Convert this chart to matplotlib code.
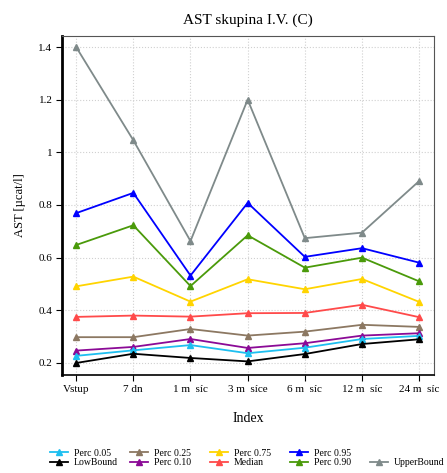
import matplotlib
matplotlib.use("Agg")
import matplotlib.pyplot as plt
from matplotlib.lines import Line2D

plt.rcParams['font.family'] = ['Liberation Serif', 'DejaVu Serif']

# Dados
indices = ['Vstup', '7 dn', '1 m  síc', '3 m  síce', '6 m  síc', '12 m  síc', '24 m  síc']

low_bound = [0.200, 0.235, 0.219, 0.206, 0.234, 0.272, 0.290]
perc_05 = [0.227, 0.248, 0.268, 0.237, 0.258, 0.291, 0.303]
perc_10 = [0.247, 0.261, 0.291, 0.257, 0.275, 0.304, 0.313]
perc_25 = [0.298, 0.298, 0.329, 0.304, 0.319, 0.345, 0.337]
median = [0.375, 0.380, 0.376, 0.389, 0.390, 0.421, 0.374]
perc_75 = [0.491, 0.528, 0.433, 0.518, 0.480, 0.519, 0.432]
perc_90 = [0.648, 0.723, 0.492, 0.685, 0.562, 0.600, 0.510]
perc_95 = [0.769, 0.846, 0.532, 0.808, 0.603, 0.636, 0.581]
upper_bound = [1.400, 1.046, 0.663, 1.200, 0.674, 0.695, 0.891]

series = [
    ('UpperBound', upper_bound, '#7f8a8a'),
    ('Perc 0.95', perc_95, '#0000ff'),
    ('Perc 0.90', perc_90, '#4a9a0a'),
    ('Perc 0.75', perc_75, '#ffd400'),
    ('Median', median, '#ff4a4a'),
    ('Perc 0.25', perc_25, '#8c7862'),
    ('Perc 0.10', perc_10, '#8b0a96'),
    ('Perc 0.05', perc_05, '#1ebff0'),
    ('LowBound', low_bound, '#000000'),
]

fig = plt.figure(figsize=(4.47, 4.73), dpi=100)
ax = fig.add_axes([0.139, 0.207, 0.832, 0.717])

x = list(range(len(indices)))
handles = {}
for nome, valores, cor in series:
    h, = ax.plot(x, valores, color=cor, marker='^', markersize=4.5, linewidth=1.3, label=nome)
    handles[nome] = h

ax.set_xlim(-0.245, 6.26)
ax.set_ylim(0.154, 1.442)
ax.set_xticks(x)
ax.set_xticklabels(indices, fontsize=8)
ax.set_yticks([0.2, 0.4, 0.6, 0.8, 1.0, 1.2, 1.4])
ax.set_yticklabels(['0.2', '0.4', '0.6', '0.8', '1', '1.2', '1.4'], fontsize=8)
ax.grid(True, linestyle=':', color='#d0d0d0', linewidth=0.8)
ax.set_axisbelow(True)

ax.spines['left'].set_linewidth(2)
ax.spines['left'].set_color('black')
ax.spines['bottom'].set_linewidth(1.2)
ax.spines['bottom'].set_color('black')
ax.spines['top'].set_color('#555555')
ax.spines['right'].set_color('#555555')
ax.tick_params(axis='both', length=4, width=0.8, pad=3)

ax.set_title('AST skupina I.V. (C)', fontsize=11, pad=9)
ax.set_ylabel('AST [µcat/l]', fontsize=9, labelpad=9)
ax.set_xlabel('Index', fontsize=10, labelpad=13)

# Legenda montada coluna a coluna (larguras iguais)
vazio = Line2D([], [], linestyle='none')
colunas = [
    ['Perc 0.05', 'LowBound'],
    ['Perc 0.25', 'Perc 0.10'],
    ['Perc 0.75', 'Median'],
    ['Perc 0.95', 'Perc 0.90'],
    [None, 'UpperBound'],
]
fs = 7
px = fs * 100 / 72
hl, htp = 1.9, 0.6
for i, col in enumerate(colunas):
    texto_x = 74 + 80 * i
    x0 = (texto_x - (hl + htp) * px) / 447
    hs = [handles[n] if n else vazio for n in col]
    ls = [n if n else '' for n in col]
    fig.legend(hs, ls, loc='center left', bbox_to_anchor=(x0, 1 - 458 / 473),
               frameon=False, fontsize=fs, handlelength=hl, handletextpad=htp,
               borderpad=0, borderaxespad=0, labelspacing=0.05, markerscale=0.9)

plt.savefig('out.png', dpi=100)
